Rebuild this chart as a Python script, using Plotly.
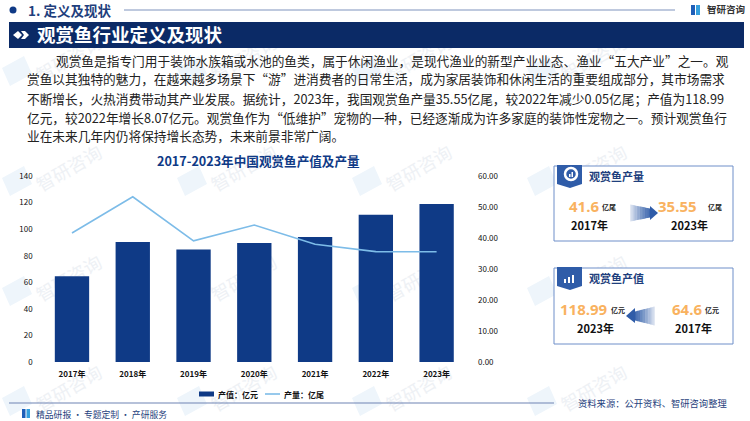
import plotly.graph_objects as go

years = ["2017年", "2018年", "2019年", "2020年", "2021年", "2022年", "2023年"]
value_yi_yuan = [64.6, 90.4, 84.6, 89.6, 94.0, 110.92, 118.99]
output_yi_wei = [41.6, 53.3, 39.1, 44.2, 38.0, 35.6, 35.55]
left_ticks = [0, 20, 40, 60, 80, 100, 120, 140]
right_ticks = [0, 10, 20, 30, 40, 50, 60]
paragraph = [
    "观赏鱼是指专门用于装饰水族箱或水池的鱼类，属于休闲渔业，是现代渔业的新型产业业态、渔业“五大产业”之一。观",
    "赏鱼以其独特的魅力，在越来越多场景下“游”进消费者的日常生活，成为家居装饰和休闲生活的重要组成部分，其市场需求",
    "不断增长，火热消费带动其产业发展。据统计，2023年，我国观赏鱼产量35.55亿尾，较2022年减少0.05亿尾；产值为118.99",
    "亿元，较2022年增长8.07亿元。观赏鱼作为“低维护”宠物的一种，已经逐渐成为许多家庭的装饰性宠物之一。预计观赏鱼行",
    "业在未来几年内仍将保持增长态势，未来前景非常广阔。",
]

W, H = 750, 421
NAVY = "#0b2a66"
BAR = "#0f3a86"
LINE = "#7dbce8"
ORANGE = "#f9b25f"
BORDER = "#6f8fc9"
FONT = "Noto Sans CJK SC"

def px(x): return x / W
def py(y): return 1 - y / H

shapes, annotations = [], []

def rect(x0, y0, x1, y1, fill=None, line=None, lw=1, opacity=1):
    shapes.append(dict(type="rect", xref="paper", yref="paper", x0=px(x0), x1=px(x1), y0=py(y1), y1=py(y0),
                       fillcolor=fill, opacity=opacity, line=dict(color=line, width=lw if line else 0), layer="below"))

def hline(x0, x1, y, color, lw=1):
    shapes.append(dict(type="line", xref="paper", yref="paper", x0=px(x0), x1=px(x1), y0=py(y), y1=py(y),
                       line=dict(color=color, width=lw), layer="below"))

def path(points, fill, opacity=1):
    d = "M" + " L".join(f"{px(a):.5f},{py(b):.5f}" for a, b in points) + " Z"
    shapes.append(dict(type="path", xref="paper", yref="paper", path=d, fillcolor=fill, opacity=opacity,
                       line=dict(width=0), layer="below"))

def text(x, y, s, size=10, color="#111111", bold=False, anchor="left", angle=0, family=FONT):
    annotations.append(dict(xref="paper", yref="paper", x=px(x), y=py(y), text=f"<b>{s}</b>" if bold else s,
                            showarrow=False, xanchor=anchor, yanchor="middle", textangle=angle,
                            font=dict(size=size, color=color, family=family)))

def watermark(x, y):
    shapes.append(dict(type="rect", xref="paper", yref="paper", x0=px(x - 35), x1=px(x + 35), y0=py(y + 18), y1=py(y - 18),
                       line=dict(width=0), fillcolor="rgba(0,0,0,0)", layer="below",
                       label=dict(text="智研咨询", textangle=-30, textposition="middle center",
                                  font=dict(size=18, color="#eef1f5", family=FONT))))
    path([(x - 68, y + 8), (x - 46, y - 4), (x - 38, y + 14), (x - 60, y + 26)], "#eef5fb")

# watermarks
for wx, wy in [(70, 60), (245, 60), (420, 60), (595, 60), (70, 170), (245, 170), (420, 170), (595, 170),
               (70, 280), (245, 280), (420, 280), (595, 280), (70, 390), (245, 390), (420, 390), (595, 390)]:
    watermark(wx, wy)

# header
shapes.append(dict(type="circle", xref="paper", yref="paper", x0=px(9.5), x1=px(16.5), y0=py(13.5), y1=py(6.5),
                   fillcolor=BAR, line=dict(width=0)))
text(26, 10, "1. 定义及现状", size=13.5, color="#1f3f7d", bold=True)
hline(124, 675, 10, "#7f93bd", 1)
text(705, 9, "智研咨询", size=9.5, color="#333333", bold=True, anchor="left")
rect(691, 5, 695, 15, fill="#1f5fb8")
rect(696, 5, 700, 15, fill="#35a0de")
rect(9, 22, 744, 48, fill=NAVY)
path([(13, 35), (18, 31), (22, 35), (18, 39)], "#ffffff")
path([(21, 31), (25, 31), (29, 35), (25, 39), (21, 39), (24, 35)], "#ffffff")
text(35, 34.5, "观赏鱼行业定义及现状", size=18.5, color="#ffffff", bold=True)

# paragraph
for i, (line, y) in enumerate(zip(paragraph, [60, 79, 98, 117, 135.5])):
    text(54 if i == 0 else 25, y, line, size=12.7, color="#222222")

# chart title
text(258, 161, "2017-2023年中国观赏鱼产值及产量", size=12.6, color=BAR, bold=True, anchor="center")

# production card
rect(554, 166, 733, 241, fill="#ffffff", line=BORDER, lw=1)
path([(557, 165), (582, 165), (582, 184), (570, 188), (557, 184)], "#2f5ca8")
shapes.append(dict(type="circle", xref="paper", yref="paper", x0=px(565), x1=px(577), y0=py(180), y1=py(168),
                   line=dict(color="#ffffff", width=2.5)))
rect(569, 174, 570.5, 177, fill="#ffffff")
rect(571.5, 172, 573, 177, fill="#ffffff")
text(587, 176, "观赏鱼产量", size=11, color="#1f3f7d", bold=True)
text(567, 206, "41.6", size=15, color=ORANGE, bold=True, family="Open Sans")
text(600, 207, "亿尾", size=7, color="#222222", bold=True)
text(656, 206, "35.55", size=15, color=ORANGE, bold=True, family="Open Sans")
text(706, 207, "亿尾", size=7, color="#222222", bold=True)
text(589, 225, "2017年", size=11, color="#111111", bold=True, anchor="center")
text(689, 225, "2023年", size=11, color="#111111", bold=True, anchor="center")

# value card
rect(554, 268, 733, 344, fill="#ffffff", line=BORDER, lw=1)
path([(557, 267), (582, 267), (582, 286), (570, 290), (557, 286)], "#2f5ca8")
rect(564, 279, 566, 283, fill="#ffffff")
rect(568, 277, 570, 283, fill="#ffffff")
rect(572, 275, 574, 283, fill="#ffffff")
text(587, 278, "观赏鱼产值", size=11, color="#1f3f7d", bold=True)
text(558, 309, "118.99", size=15, color=ORANGE, bold=True, family="Open Sans")
text(609, 310, "亿元", size=7, color="#222222", bold=True)
text(670, 309, "64.6", size=15, color=ORANGE, bold=True, family="Open Sans")
text(703, 310, "亿元", size=7, color="#222222", bold=True)
text(595, 328, "2023年", size=11, color="#111111", bold=True, anchor="center")
text(693, 328, "2017年", size=11, color="#111111", bold=True, anchor="center")

# gradient arrows: tapering tail sliced into fading strips, solid head
steps = 14
for k in range(steps):
    t0, t1 = k / steps, (k + 1) / steps
    a = 0.08 + 0.85 * t1
    xa, xb = 630 + 20 * t0, 630 + 20 * t1 + 0.3
    h0, h1 = 8.5 - 4 * t0, 8.5 - 4 * t1
    path([(xa, 213 - h0), (xb, 213 - h1), (xb, 213 + h1), (xa, 213 + h0)], "#2f5ca8", a)
    xa, xb = 655 - 20 * t0, 655 - 20 * t1 - 0.3
    h0, h1 = 9.5 - 5 * t0, 9.5 - 5 * t1
    path([(xa, 316 - h0), (xb, 316 - h1), (xb, 316 + h1), (xa, 316 + h0)], "#2f5ca8", a)
path([(650, 206), (658, 213), (650, 220)], "#2f5ca8")
path([(635, 308), (626, 316), (635, 323)], "#2f5ca8")

# hand-built legend (short wide swatches, as in the reference)
rect(199, 391.5, 214, 396.5, fill=BAR)
text(216, 394, "产值：亿元", size=8, color="#111111", bold=True)
hline(265, 280, 394, LINE, 1.6)
text(282, 394, "产量：亿尾", size=8, color="#111111", bold=True)

# footer
hline(9, 554, 403, "#6f84b3", 1.2)
rect(22, 409, 25.5, 418, fill="#1f5fb8")
rect(26.5, 409, 30, 418, fill="#35a0de")
text(34, 414.5, "精品研报 · 专题定制 · 产研服务", size=8.8, color="#1f3f7d")
text(576, 403, "资料来源：公开资料、智研咨询整理", size=9.3, color="#1f3f7d")

fig = go.Figure()
fig.add_bar(x=years, y=value_yi_yuan, name="产值：亿元", marker=dict(color=BAR), width=0.565, yaxis="y")
fig.add_scatter(x=years, y=output_yi_wei, name="产量：亿尾", mode="lines", line=dict(color=LINE, width=1.6), yaxis="y2")

tick_font = dict(size=8, color="#111111", family=FONT)
fig.update_layout(
    template="none",
    width=W, height=H, autosize=False, showlegend=False,
    margin=dict(l=0, r=0, t=0, b=0, pad=0),
    paper_bgcolor="#ffffff", plot_bgcolor="rgba(0,0,0,0)",
    font=dict(family=FONT),
    shapes=shapes, annotations=annotations,
    xaxis=dict(domain=[px(41.6), px(467)], anchor="y", tickfont=tick_font, showgrid=False, showline=False,
               zeroline=False, automargin=False, ticks="", ticklabelstandoff=6,
               tickprefix="<b>", ticksuffix="</b>"),
    yaxis=dict(domain=[py(362), py(176)], range=[0, 140], tickvals=left_ticks, tickfont=tick_font, automargin=False,
               showgrid=False, showline=False, zeroline=False, ticks="", ticklabelstandoff=8,
               tickprefix="<b>", ticksuffix="</b>"),
    yaxis2=dict(domain=[py(362), py(176)], range=[0, 60], tickvals=right_ticks, tickformat=".2f", overlaying="y",
                side="right", tickfont=tick_font, showgrid=False, showline=False, zeroline=False, ticks="",
                automargin=False, ticklabelstandoff=10,
                tickprefix="<b>", ticksuffix="</b>", anchor="x"),
)
fig.write_html("out.html", config=dict(displayModeBar=False),
               post_script="document.body.style.margin='0';document.body.style.overflow='hidden';")
